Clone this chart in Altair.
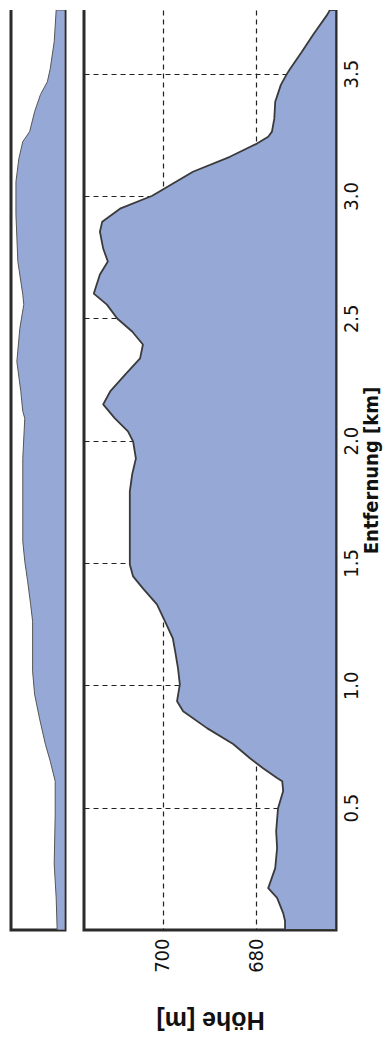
import altair as alt
import pandas as pd

# ---- main elevation profile (distance in km, height in m) ----
dist = [0.0, 0.037, 0.069, 0.131, 0.171, 0.253, 0.335, 0.404, 0.498, 0.568,
        0.608, 0.621, 0.661, 0.702, 0.760, 0.825, 0.894, 0.935, 1.004, 1.070,
        1.139, 1.192, 1.262, 1.331, 1.396, 1.445, 1.494, 1.588, 1.658, 1.793,
        1.862, 1.927, 1.997, 2.038, 2.091, 2.148, 2.201, 2.270, 2.336, 2.393,
        2.446, 2.499, 2.556, 2.601, 2.679, 2.732, 2.785, 2.854, 2.895, 2.948,
        3.001, 3.099, 3.160, 3.214, 3.242, 3.263, 3.316, 3.385, 3.454, 3.499,
        3.520, 3.589, 3.659, 3.740, 3.760]
height = [673.8, 673.8, 674.2, 675.5, 677.4, 675.9, 675.5, 675.7, 675.3, 674.2,
          674.4, 675.5, 678.5, 681.3, 684.9, 690.5, 695.6, 696.9, 696.3, 696.7,
          697.3, 697.8, 699.5, 701.2, 704.2, 706.3, 707.0, 707.0, 707.0, 707.0,
          706.5, 705.7, 706.3, 707.4, 710.2, 712.7, 711.2, 708.0, 704.8, 704.2,
          706.5, 709.7, 711.9, 714.7, 713.4, 711.7, 712.7, 713.4, 712.9, 709.1,
          702.2, 693.5, 685.6, 679.8, 677.4, 676.6, 676.1, 675.9, 674.7, 673.4,
          672.7, 670.2, 667.8, 664.8, 664.2]

# ---- overview strip ----
ov_dist = [0.0, 0.131, 0.270, 0.474, 0.608, 0.690, 0.759, 0.866, 0.964, 1.058,
           1.262, 1.331, 1.425, 1.507, 1.588, 1.927, 2.091, 2.120, 2.201, 2.323,
           2.458, 2.556, 2.597, 2.732, 2.924, 3.058, 3.152, 3.222, 3.263, 3.344,
           3.414, 3.467, 3.520, 3.630, 3.760]
ov_height = [668.7, 669.8, 672.0, 670.9, 670.9, 676.4, 681.8, 688.4, 693.8, 696.0,
             696.0, 698.2, 701.5, 704.7, 706.9, 706.9, 704.7, 706.9, 709.1, 713.5,
             710.2, 705.8, 706.9, 712.4, 714.5, 714.5, 711.3, 706.9, 699.3, 693.8,
             687.3, 679.6, 676.4, 672.0, 669.8]

# ---- ticks ----
dist_ticks = [0.5, 1.0, 1.5, 2.0, 2.5, 3.0, 3.5]
height_ticks = [680, 700]

H_MIN, H_MAX = 662.9, 716.8
D_MIN, D_MAX = 0.0, 3.76
OV_MIN, OV_MAX = 660, 720

FILL = "#96a8d6"
LINE = "#3a3a3a"
FRAME = "#2b2b2b"
NARROW = "Liberation Sans Narrow, Arial Narrow, DejaVu Sans Condensed, sans-serif"
BOLD = "Liberation Sans, Arial, sans-serif"

W, H = 252, 920
OW = 54


def open_top_frame(w, h):
    # frame on left, right and bottom only (the top edge of the view rect is skipped)
    return alt.ViewBackground(stroke=FRAME, strokeWidth=3,
                              strokeDash=[0, w, 2 * h + w, 0])


main_df = pd.DataFrame({"d": dist, "h": height})
ov_df = pd.DataFrame({"d": ov_dist, "h": ov_height})

ysc = alt.Scale(domain=[D_MIN, D_MAX], nice=False, zero=False)
xsc = alt.Scale(domain=[H_MIN, H_MAX], reverse=True, nice=False, zero=False)
oxsc = alt.Scale(domain=[OV_MIN, OV_MAX], reverse=True, nice=False, zero=False)

x_axis = alt.Axis(values=height_ticks, orient="bottom", title="Höhe [m]",
                  labelAngle=270, labelAlign="right", labelBaseline="middle",
                  labelPadding=8, ticks=False, domain=False,
                  grid=True, gridDash=[5, 4], gridColor="#222222", gridWidth=1.2,
                  titleAngle=180, titleBaseline="bottom", titlePadding=34,
                  titleFont=BOLD, titleFontSize=25, titleFontWeight="bold")
y_axis = alt.Axis(values=dist_ticks, orient="right", format=".1f", title="Entfernung [km]",
                  labelAngle=270, labelAlign="center", labelBaseline="top",
                  labelPadding=5, ticks=False, domain=False,
                  grid=True, gridDash=[5, 4], gridColor="#222222", gridWidth=1.2,
                  titleAngle=270, titleBaseline="top", titlePadding=0,
                  titleFont=NARROW, titleFontSize=20, titleFontWeight="bold")

main = alt.Chart(main_df).mark_area(
    orient="horizontal", color=FILL, clip=True, stroke=LINE, strokeWidth=1.8,
    strokeJoin="round"
).transform_calculate(
    base=str(H_MIN)
).encode(
    y=alt.Y("d:Q", scale=ysc, axis=y_axis),
    x=alt.X("h:Q", scale=xsc, axis=x_axis, stack=None),
    x2="base:Q",
).properties(width=W, height=H, view=open_top_frame(W, H))

overview = alt.Chart(ov_df).mark_area(
    orient="horizontal", color=FILL, clip=True, stroke="#555555", strokeWidth=1.0
).transform_calculate(
    base=str(OV_MIN)
).encode(
    y=alt.Y("d:Q", scale=ysc, axis=None),
    x=alt.X("h:Q", scale=oxsc, axis=None, stack=None),
    x2="base:Q",
).properties(width=OW, height=H, view=open_top_frame(OW, H))

chart = alt.hconcat(overview, main, spacing=15).properties(
    padding={"left": 1, "top": 0, "right": 0, "bottom": 5}
).configure_axis(
    labelFont=NARROW, labelFontSize=20, labelColor="#111111", titleColor="#111111"
)

chart.save("out.html", embed_options={"renderer": "svg", "actions": False})
